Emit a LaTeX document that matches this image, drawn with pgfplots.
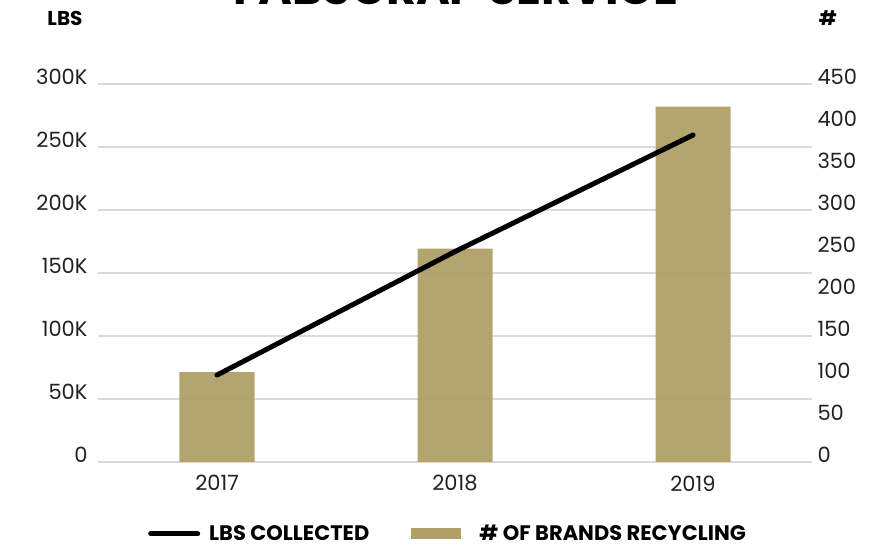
\documentclass[border=0pt]{standalone}
\usepackage{pgfplots}
\pgfplotsset{compat=1.18}
\usepackage{fontspec}
\setmainfont{Poppins}
\definecolor{gold}{HTML}{B09F66}
\definecolor{gridgray}{HTML}{DADADA}
\begin{document}
\begin{tikzpicture}
% right axis: bars (# of brands) and gridlines
\begin{axis}[
  at={(0pt,0pt)}, anchor=south west,
  scale only axis, width=714pt, height=378pt,
  xmin=-0.5, xmax=2.5, ymin=0, ymax=450,
  axis y line*=right, axis x line*=bottom,
  axis line style={draw=none},
  xtick={0,1,2}, xticklabels={2017,2018,2019},
  ytick={0,50,...,450},
  extra y ticks={0,75,150,225,300,375,450},
  extra y tick labels={},
  extra y tick style={grid=major},
  grid style={gridgray, line width=2pt},
  major tick length=0pt,
  /pgf/number format/assume math mode=true,
  tick label style={font=\fontsize{21}{25}\selectfont, text=black!87},
  yticklabel style={xshift=2pt, yshift=7pt},
  xticklabel style={yshift=-10pt},
]
\addplot[ybar, bar width=75pt, fill=gold, fill opacity=0.95, draw=none]
  coordinates {(0,107) (1,254) (2,423)};
\end{axis}
% left axis: line (lbs collected)
\begin{axis}[
  at={(0pt,0pt)}, anchor=south west,
  scale only axis, width=714pt, height=378pt,
  xmin=-0.5, xmax=2.5, ymin=0, ymax=300000,
  axis y line*=left, hide x axis,
  axis line style={draw=none},
  ytick={0,50000,100000,150000,200000,250000,300000},
  yticklabels={0,50K,100K,150K,200K,250K,300K},
  scaled y ticks=false,
  major tick length=0pt,
  /pgf/number format/assume math mode=true,
  tick label style={font=\fontsize{21}{25}\selectfont, text=black!87},
  yticklabel style={xshift=-7pt, yshift=7pt},
  legend columns=2,
  legend cell align=left,
  legend style={at={(0.07,-0.19)}, anchor=west, draw=none, fill=none,
    inner sep=0pt, font=\bfseries\fontsize{21}{24}\selectfont,
    /tikz/every even column/.append style={column sep=40pt}},
]
\addplot[black, line width=5pt, line cap=round,
  legend image code/.code={\draw[black, line width=5pt, line cap=round] (2.5pt,0pt) -- (49.5pt,0pt); \path[draw=none] (0pt,0pt) -- (59pt,0pt);}]
  coordinates {(0,69000) (1,167000) (2,259500)};
\addlegendentry{LBS COLLECTED}
\addlegendimage{legend image code/.code={\fill[gold, draw=none] (0pt,-5.5pt) rectangle (50pt,5.5pt); \path[draw=none] (0pt,0pt) -- (66pt,0pt);}}
\addlegendentry{\# OF BRANDS RECYCLING}
\end{axis}
\node[font=\bfseries\fontsize{20}{24}\selectfont] at (-33pt,444pt) {LBS};
\node[font=\bfseries\fontsize{20}{24}\selectfont] at (730pt,444pt) {\#};
\node[font=\bfseries\fontsize{46}{50}\selectfont, anchor=base] at (358pt,457pt) {FABSCRAP SERVICE};
\pgfresetboundingbox
\path[use as bounding box] (-98pt,-86pt) rectangle (781pt,462pt);
\end{tikzpicture}
\end{document}
